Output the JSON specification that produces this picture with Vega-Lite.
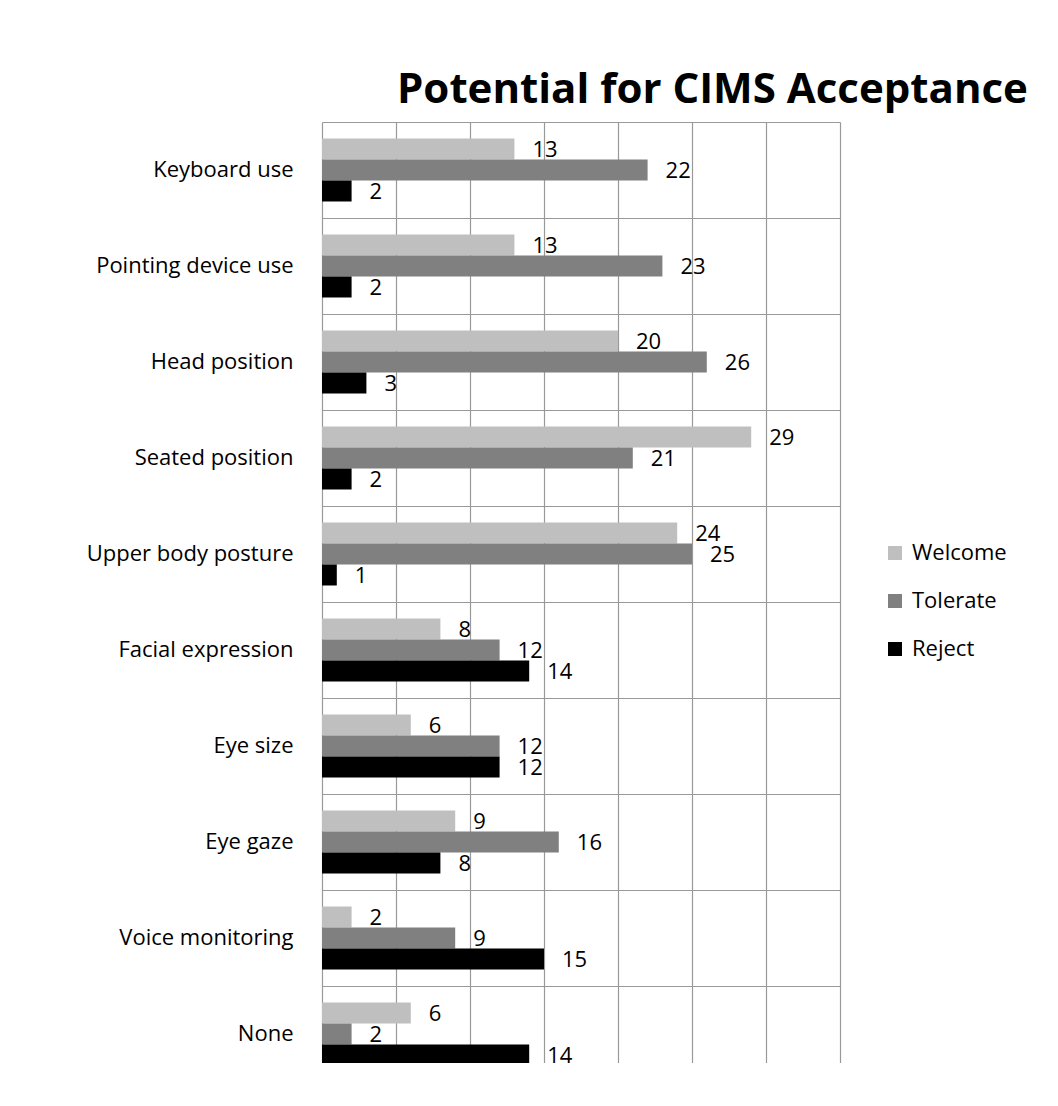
{
  "$schema": "https://vega.github.io/schema/vega-lite/v6.json",
  "autosize": "none",
  "padding": {"left": 322, "top": 122, "right": 218, "bottom": -19},
  "width": 518,
  "height": 960,
  "background": "white",
  "title": {
    "text": "Potential for CIMS Acceptance",
    "anchor": "start",
    "frame": "group",
    "dx": 75,
    "dy": 42,
    "fontSize": 42,
    "font": "Open Sans",
    "fontWeight": "bold",
    "color": "black",
    "offset": 19,
    "baseline": "alphabetic"
  },
  "config": {"view": {"stroke": null}},
  "data": {
    "values": [
      {"category": "Keyboard use", "response": "Welcome", "count": 13},
      {"category": "Keyboard use", "response": "Tolerate", "count": 22},
      {"category": "Keyboard use", "response": "Reject", "count": 2},
      {"category": "Pointing device use", "response": "Welcome", "count": 13},
      {"category": "Pointing device use", "response": "Tolerate", "count": 23},
      {"category": "Pointing device use", "response": "Reject", "count": 2},
      {"category": "Head position", "response": "Welcome", "count": 20},
      {"category": "Head position", "response": "Tolerate", "count": 26},
      {"category": "Head position", "response": "Reject", "count": 3},
      {"category": "Seated position", "response": "Welcome", "count": 29},
      {"category": "Seated position", "response": "Tolerate", "count": 21},
      {"category": "Seated position", "response": "Reject", "count": 2},
      {"category": "Upper body posture\u00a0", "response": "Welcome", "count": 24},
      {"category": "Upper body posture\u00a0", "response": "Tolerate", "count": 25},
      {"category": "Upper body posture\u00a0", "response": "Reject", "count": 1},
      {"category": "Facial expression", "response": "Welcome", "count": 8},
      {"category": "Facial expression", "response": "Tolerate", "count": 12},
      {"category": "Facial expression", "response": "Reject", "count": 14},
      {"category": "Eye size\u00a0", "response": "Welcome", "count": 6},
      {"category": "Eye size\u00a0", "response": "Tolerate", "count": 12},
      {"category": "Eye size\u00a0", "response": "Reject", "count": 12},
      {"category": "Eye gaze", "response": "Welcome", "count": 9},
      {"category": "Eye gaze", "response": "Tolerate", "count": 16},
      {"category": "Eye gaze", "response": "Reject", "count": 8},
      {"category": "Voice monitoring", "response": "Welcome", "count": 2},
      {"category": "Voice monitoring", "response": "Tolerate", "count": 9},
      {"category": "Voice monitoring", "response": "Reject", "count": 15},
      {"category": "None", "response": "Welcome", "count": 6},
      {"category": "None", "response": "Tolerate", "count": 2},
      {"category": "None", "response": "Reject", "count": 14}
    ]
  },
  "encoding": {
    "y": {
      "field": "category",
      "type": "nominal",
      "sort": ["Keyboard use", "Pointing device use", "Head position", "Seated position", "Upper body posture\u00a0", "Facial expression", "Eye size\u00a0", "Eye gaze", "Voice monitoring", "None"],
      "scale": {"paddingInner": 0, "paddingOuter": 0},
      "axis": {
        "title": null,
        "domain": false,
        "ticks": false,
        "grid": true,
        "gridColor": "#999999",
        "gridWidth": 1.2,
        "bandPosition": 0,
        "labelPadding": 29,
        "labelFont": "Open Sans",
        "labelFontSize": 22,
        "labelColor": "black",
        "labelLimit": 400
      }
    },
    "yOffset": {
      "field": "response",
      "type": "nominal",
      "sort": ["Welcome", "Tolerate", "Reject"],
      "scale": {"paddingInner": 0, "paddingOuter": 0.786}
    },
    "x": {
      "field": "count",
      "type": "quantitative",
      "scale": {"domain": [0, 35], "nice": false},
      "axis": {
        "title": null,
        "labels": false,
        "ticks": false,
        "domain": false,
        "grid": true,
        "gridColor": "#999999",
        "gridWidth": 1.2,
        "values": [0, 5, 10, 15, 20, 25, 30, 35]
      }
    }
  },
  "layer": [
    {
      "mark": {"type": "bar", "clip": true},
      "encoding": {
        "color": {
          "field": "response",
          "type": "nominal",
          "scale": {"domain": ["Welcome", "Tolerate", "Reject"], "range": ["#BFBFBF", "#808080", "#000000"]},
          "legend": {
            "title": null,
            "orient": "none",
            "legendX": 562,
            "legendY": 420,
            "padding": 0,
            "symbolType": "square",
            "symbolSize": 196,
            "symbolStrokeWidth": 0,
            "labelFont": "Open Sans",
            "labelFontSize": 22,
            "labelColor": "black",
            "labelOffset": 6,
            "rowPadding": 26
          }
        }
      }
    },
    {
      "mark": {"type": "text", "clip": true, "align": "left", "baseline": "middle", "dx": 18, "dy": 1, "font": "Open Sans", "fontSize": 22, "color": "black"},
      "encoding": {"text": {"field": "count", "type": "quantitative"}}
    }
  ]
}
